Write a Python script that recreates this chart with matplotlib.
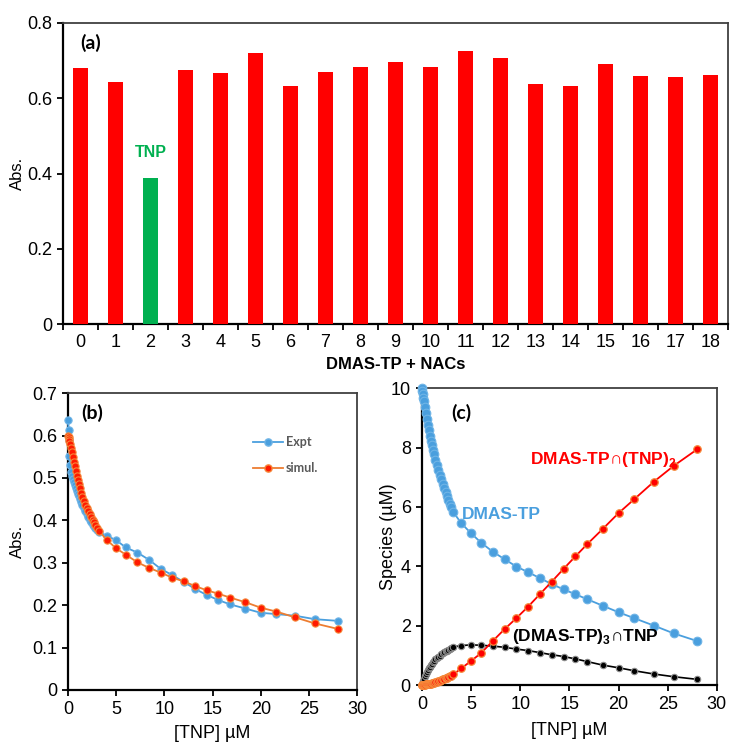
import numpy as np
import matplotlib
matplotlib.use("Agg")
import matplotlib.pyplot as plt
from matplotlib.lines import Line2D

plt.rcParams['font.family'] = ['Liberation Sans', 'DejaVu Sans']
plt.rcParams['mathtext.fontset'] = 'custom'
plt.rcParams['mathtext.bf'] = 'Liberation Sans:bold'
plt.rcParams['mathtext.rm'] = 'Liberation Sans'

# ---- panel (a): absorbance of DMAS-TP with each NAC ----
nac_ids = list(range(19))
nac_abs = [0.680, 0.642, 0.388, 0.676, 0.668, 0.720, 0.632, 0.669, 0.683, 0.695,
           0.682, 0.725, 0.708, 0.638, 0.633, 0.690, 0.660, 0.657, 0.663]
tnp_index = 2

# ---- panel (b)/(c): titration with TNP ----
tnp_conc = [0, 0.05, 0.1, 0.15, 0.2, 0.3, 0.4, 0.5, 0.6, 0.7, 0.8, 0.9, 1.0, 1.1,
            1.2, 1.35, 1.5, 1.65, 1.8, 1.95, 2.1, 2.25, 2.4, 2.55, 2.7, 2.85, 3.0, 3.2,
            4.0, 5.0, 6.0, 7.2, 8.4, 9.6, 10.8, 12.0, 13.2, 14.4, 15.6, 16.8, 18.4,
            20.0, 21.6, 23.6, 25.6, 28.0]
abs_expt = [0.637, 0.612, 0.590, 0.552, 0.530, 0.515, 0.505, 0.497, 0.490, 0.483,
            0.476, 0.469, 0.463, 0.457, 0.451, 0.443, 0.436, 0.429, 0.422, 0.415,
            0.408, 0.402, 0.396, 0.390, 0.386, 0.381, 0.377, 0.372,
            0.364, 0.353, 0.336, 0.324, 0.307, 0.286, 0.271, 0.255, 0.238, 0.224,
            0.212, 0.202, 0.192, 0.182, 0.179, 0.175, 0.167, 0.163]
abs_simul = [0.600, 0.596, 0.591, 0.586, 0.581, 0.571, 0.561, 0.549, 0.538, 0.527,
             0.516, 0.505, 0.495, 0.486, 0.477, 0.465, 0.455, 0.446, 0.437, 0.429,
             0.421, 0.414, 0.407, 0.401, 0.395, 0.389, 0.383, 0.376,
             0.354, 0.334, 0.319, 0.301, 0.288, 0.277, 0.265, 0.256, 0.245, 0.235,
             0.227, 0.218, 0.207, 0.194, 0.185, 0.171, 0.157, 0.144]
free_host = [10.0, 9.90, 9.80, 9.68, 9.56, 9.35, 9.15, 8.95, 8.76, 8.58, 8.40, 8.23,
             8.07, 7.92, 7.78, 7.58, 7.40, 7.24, 7.08, 6.93, 6.78, 6.64, 6.50, 6.37,
             6.24, 6.11, 5.98, 5.82,
             5.45, 5.11, 4.80, 4.49, 4.24, 3.99, 3.80, 3.60, 3.40, 3.22, 3.06, 2.89,
             2.67, 2.45, 2.25, 2.00, 1.74, 1.48]
complex_12 = [0.0, 0.0, 0.0, 0.0, 0.01, 0.01, 0.02, 0.02, 0.03, 0.03, 0.04, 0.05,
              0.06, 0.07, 0.08, 0.10, 0.11, 0.13, 0.15, 0.17, 0.19, 0.21, 0.23, 0.25,
              0.27, 0.29, 0.32, 0.36,
              0.56, 0.81, 1.07, 1.48, 1.88, 2.25, 2.64, 3.06, 3.48, 3.91, 4.33, 4.74,
              5.26, 5.79, 6.26, 6.85, 7.38, 7.94]
complex_31 = [0.0, 0.05, 0.10, 0.15, 0.20, 0.29, 0.37, 0.44, 0.50, 0.56, 0.62, 0.67,
              0.72, 0.76, 0.80, 0.86, 0.91, 0.95, 0.99, 1.03, 1.07, 1.10, 1.13, 1.16,
              1.19, 1.22, 1.25, 1.28,
              1.33, 1.35, 1.34, 1.31, 1.27, 1.21, 1.16, 1.09, 1.02, 0.96, 0.88, 0.79,
              0.67, 0.58, 0.48, 0.37, 0.28, 0.19]

RED = "#FF0000"
GREEN = "#00B050"
BLUE = "#4A9FDE"
BLUE_EDGE = "#6FB4E6"
ORANGE = "#ED7D31"
ORANGE_EDGE = "#F5883A"


def style_axes(ax):
    for s in ("left", "bottom"):
        ax.spines[s].set_linewidth(1.6)
        ax.spines[s].set_color("black")
    for s in ("top", "right"):
        ax.spines[s].set_linewidth(1.3)
        ax.spines[s].set_color("0.25")
    ax.tick_params(direction="out", length=4, width=1.3, labelsize=13, pad=4)


fig = plt.figure(figsize=(7.30, 7.44), dpi=100)

# (a)
ax_a = fig.add_axes([0.0863, 0.5645, 0.911, 0.4046])
colors = [GREEN if i == tnp_index else RED for i in nac_ids]
ax_a.bar(nac_ids, nac_abs, width=0.43, color=colors, zorder=3)
ax_a.set_xlim(-0.5, 18.5)
ax_a.set_ylim(0, 0.8)
ax_a.set_yticks([0, 0.2, 0.4, 0.6, 0.8])
ax_a.set_yticklabels(["0", "0.2", "0.4", "0.6", "0.8"])
ax_a.set_xticks(nac_ids)
ax_a.set_xticks(np.arange(-0.5, 19, 1), minor=True)
style_axes(ax_a)
ax_a.tick_params(axis="x", which="major", length=0, pad=7)
ax_a.tick_params(axis="x", which="minor", direction="out", length=4, width=1.3)
ax_a.set_ylabel("Abs.", fontsize=12)
ax_a.yaxis.set_label_coords(-0.057, 0.5)
ax_a.set_xlabel("DMAS-TP + NACs", fontsize=12, fontweight="bold", va="top")
ax_a.xaxis.set_label_coords(0.5, -0.11)
ax_a.text(0.026, 0.934, "(a)", transform=ax_a.transAxes, fontsize=14,
          fontweight="bold", family=["Lato", "DejaVu Sans"], va="center", ha="left")
ax_a.text(tnp_index, 0.455, "TNP", color=GREEN, fontsize=11.5, fontweight="bold",
          ha="center", va="center")

# (b)
ax_b = fig.add_axes([0.0932, 0.0726, 0.396, 0.399])
ax_b.plot(tnp_conc, abs_expt, color=BLUE, lw=1.3, marker="o", ms=5.2,
          mfc=BLUE, mec=BLUE_EDGE, mew=0.8, zorder=3, clip_on=False)
ax_b.plot(tnp_conc, abs_simul, color=ORANGE, lw=1.3, marker="o", ms=5.2,
          mfc="#FF1A00", mec=ORANGE_EDGE, mew=0.8, zorder=4, clip_on=False)
ax_b.set_xlim(0, 30)
ax_b.set_ylim(0, 0.7)
ax_b.set_xticks([0, 5, 10, 15, 20, 25, 30])
ax_b.set_yticks([0, 0.1, 0.2, 0.3, 0.4, 0.5, 0.6, 0.7])
ax_b.set_yticklabels(["0", "0.1", "0.2", "0.3", "0.4", "0.5", "0.6", "0.7"])
style_axes(ax_b)
ax_b.set_ylabel("Abs.", fontsize=12)
ax_b.yaxis.set_label_coords(-0.149, 0.5)
ax_b.set_xlabel("[TNP] µM", fontsize=13, va="top")
ax_b.xaxis.set_label_coords(0.5, -0.118)
ax_b.text(1.32, 0.653, "(b)", fontsize=14, fontweight="bold",
          family=["Lato", "DejaVu Sans"], va="center", ha="left")
handles = [
    Line2D([], [], color=BLUE, lw=1.3, marker="o", ms=5.2, mfc=BLUE, mec=BLUE_EDGE),
    Line2D([], [], color=ORANGE, lw=1.3, marker="o", ms=5.2, mfc="#FF1A00",
           mec=ORANGE_EDGE),
]
leg = ax_b.legend(handles, ["Expt", "simul."], loc="upper left",
                  bbox_to_anchor=(0.64, 0.855), frameon=False, borderpad=0,
                  borderaxespad=0, handlelength=2.4, handletextpad=0.2,
                  labelspacing=1.1, prop={"family": ["Lato", "DejaVu Sans"],
                                          "weight": "bold", "size": 9})
for t in leg.get_texts():
    t.set_color("#595959")

# (c)
ax_c = fig.add_axes([0.578, 0.0793, 0.404, 0.399])
ax_c.plot(tnp_conc, free_host, color=BLUE, lw=1.3, marker="o", ms=6.2,
          mfc=BLUE, mec=BLUE_EDGE, mew=0.8, zorder=3, clip_on=False)
ax_c.plot(tnp_conc, complex_31, color="black", lw=1.2, marker="o", ms=4.6,
          mfc="black", mec="#8C8C8C", mew=0.8, zorder=4, clip_on=False)
ax_c.plot(tnp_conc, complex_12, color=RED, lw=1.3, marker="o", ms=5.4,
          mfc=RED, mec="#F58A3A", mew=0.9, zorder=5, clip_on=False)
ax_c.set_xlim(0, 30)
ax_c.set_ylim(0, 10)
ax_c.set_xticks([0, 5, 10, 15, 20, 25, 30])
ax_c.set_yticks([0, 2, 4, 6, 8, 10])
style_axes(ax_c)
ax_c.set_ylabel("Species (µM)", fontsize=13)
ax_c.yaxis.set_label_coords(-0.085, 0.5)
ax_c.set_xlabel("[TNP] µM", fontsize=13, va="top")
ax_c.xaxis.set_label_coords(0.5, -0.125)
ax_c.text(2.98, 9.16, "(c)", fontsize=14, fontweight="bold",
          family=["Lato", "DejaVu Sans"], va="center", ha="left")
ax_c.text(11.0, 7.58, r"DMAS-TP∩(TNP)$_\mathbf{2}$", color=RED, fontsize=12.5,
          fontweight="bold", va="center", ha="left", zorder=6)
ax_c.text(4.07, 5.73, "DMAS-TP", color=BLUE, fontsize=12.5, fontweight="bold",
          va="center", ha="left", zorder=6)
ax_c.text(9.15, 1.63, r"(DMAS-TP)$_\mathbf{3}$∩TNP", color="black", fontsize=12.5,
          fontweight="bold", va="center", ha="left", zorder=6)

fig.savefig("out.png", dpi=100)
